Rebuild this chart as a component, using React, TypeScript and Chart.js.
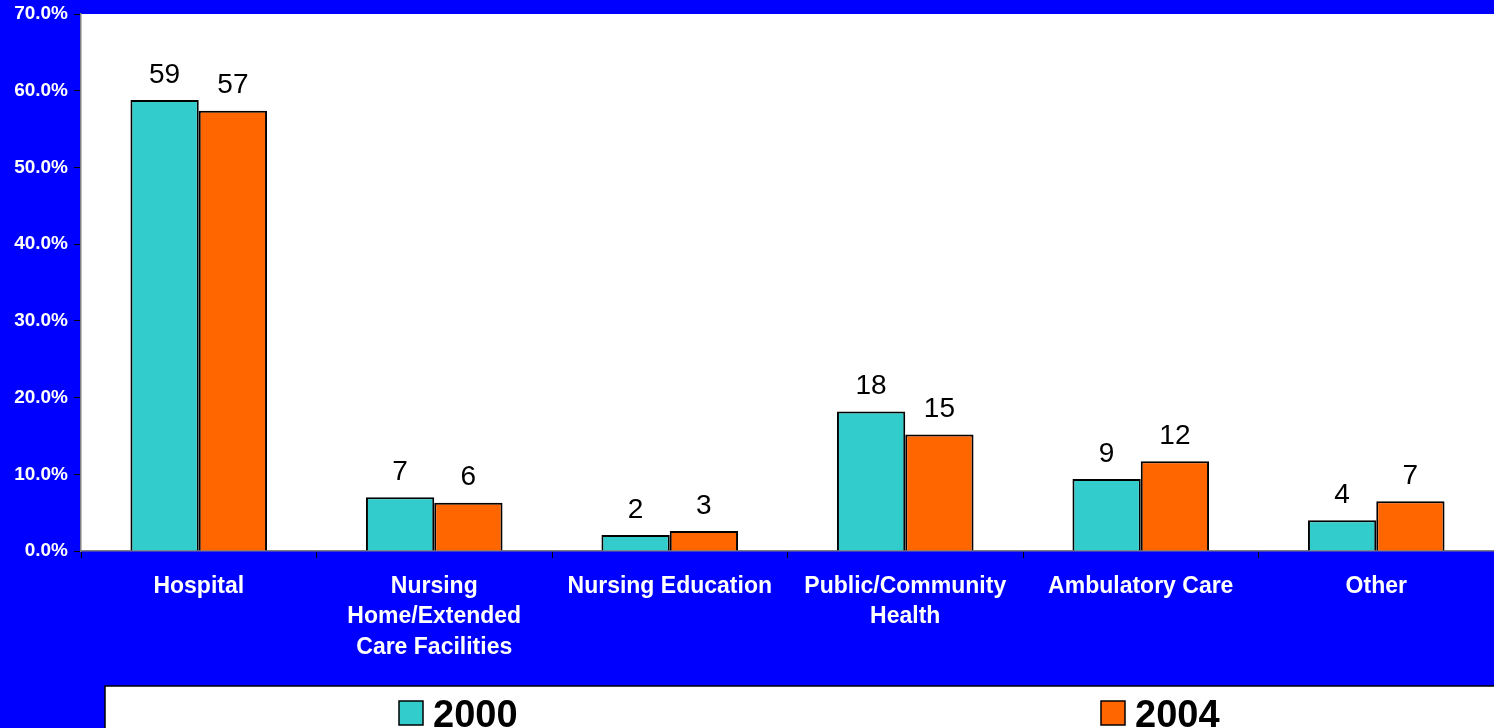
import React, { useEffect, useRef } from "react";
import { Chart, registerables } from "chart.js";

Chart.register(...registerables);

// Share of employed RNs by work setting (%)
const categories: (string | string[])[] = [
  "Hospital",
  ["Nursing", "Home/Extended", "Care Facilities"],
  "Nursing Education",
  ["Public/Community", "Health"],
  "Ambulatory Care",
  "Other",
];
const series2000 = [58.8, 7.0, 2.1, 18.2, 9.4, 4.0];
const series2004 = [57.4, 6.3, 2.6, 15.2, 11.7, 6.5];
const seriesNames = ["2000", "2004"];
const seriesColors = ["#33CCCC", "#FF6600"];
const yTicks = [0, 10, 20, 30, 40, 50, 60, 70];

const FONT = "'Liberation Sans', Arial, sans-serif";

const backgroundPlugin = {
  id: "panelBackground",
  beforeDraw(chart: any) {
    const { ctx, chartArea } = chart;
    ctx.save();
    ctx.fillStyle = "#0000FF";
    ctx.fillRect(0, 0, chart.width, chart.height);
    ctx.fillStyle = "#FFFFFF";
    ctx.fillRect(chartArea.left, chartArea.top, chartArea.right - chartArea.left, chartArea.bottom - chartArea.top);
    ctx.restore();
  },
};

const valueLabelPlugin = {
  id: "valueLabels",
  afterDatasetsDraw(chart: any) {
    const { ctx } = chart;
    ctx.save();
    ctx.fillStyle = "#000000";
    ctx.font = `28px ${FONT}`;
    ctx.textAlign = "center";
    ctx.textBaseline = "middle";
    chart.data.datasets.forEach((ds: any, i: number) => {
      const meta = chart.getDatasetMeta(i);
      meta.data.forEach((bar: any, j: number) => {
        const v = ds.data[j] as number;
        ctx.fillText(String(Math.round(v)), bar.x, bar.y - 25);
      });
    });
    ctx.restore();
  },
};

const legendBoxPlugin = {
  id: "legendBox",
  afterDraw(chart: any) {
    const { ctx } = chart;
    const top = 686;
    const left = 105;
    ctx.save();
    ctx.fillStyle = "#FFFFFF";
    ctx.fillRect(left, top, chart.width - left, chart.height - top);
    ctx.strokeStyle = "#000000";
    ctx.lineWidth = 1.5;
    ctx.beginPath();
    ctx.moveTo(left, chart.height);
    ctx.lineTo(left, top);
    ctx.lineTo(chart.width, top);
    ctx.stroke();

    const itemX = [399, 1101];
    ctx.font = `bold 38px ${FONT}`;
    ctx.textAlign = "left";
    ctx.textBaseline = "alphabetic";
    seriesNames.forEach((name, i) => {
      const x = itemX[i];
      ctx.fillStyle = seriesColors[i];
      ctx.fillRect(x, 701, 24, 24);
      ctx.strokeStyle = "#000000";
      ctx.lineWidth = 1.5;
      ctx.strokeRect(x, 701, 24, 24);
      ctx.fillStyle = "#000000";
      ctx.fillText(name, x + 34, 727);
    });
    ctx.restore();
  },
};

export default function App() {
  const canvasRef = useRef<HTMLCanvasElement | null>(null);

  useEffect(() => {
    if (!canvasRef.current) return;
    const chart = new Chart(canvasRef.current, {
      type: "bar",
      data: {
        labels: categories,
        datasets: [
          {
            label: seriesNames[0],
            data: series2000,
            backgroundColor: seriesColors[0],
            borderColor: "#000000",
            borderWidth: 2,
            categoryPercentage: 0.58,
            barPercentage: 1,
          },
          {
            label: seriesNames[1],
            data: series2004,
            backgroundColor: seriesColors[1],
            borderColor: "#000000",
            borderWidth: 2,
            categoryPercentage: 0.58,
            barPercentage: 1,
          },
        ],
      },
      options: {
        responsive: false,
        animation: false,
        devicePixelRatio: 1,
        layout: { padding: { top: 14, left: 0, right: 0, bottom: 0 } },
        plugins: {
          legend: { display: false },
          tooltip: { enabled: false },
        },
        scales: {
          x: {
            grid: {
              offset: true,
              drawOnChartArea: false,
              tickLength: 7,
              tickColor: "#000000",
            },
            border: { color: "#808080", width: 1.5 },
            ticks: {
              color: "#FFFFFF",
              font: { family: FONT, size: 23, weight: "bold", lineHeight: 1.33 },
              padding: 13,
              maxRotation: 0,
              minRotation: 0,
              autoSkip: false,
            },
            afterFit(scale: any) {
              scale.height = 177;
            },
          },
          y: {
            min: 0,
            max: 70,
            afterBuildTicks(scale: any) {
              scale.ticks = yTicks.map((v) => ({ value: v }));
            },
            grid: {
              drawOnChartArea: false,
              tickLength: 7,
              tickColor: "#000000",
            },
            border: { color: "#808080", width: 1.5 },
            ticks: {
              color: "#FFFFFF",
              font: { family: FONT, size: 19, weight: "bold" },
              padding: 6,
              callback: (v: any) => `${Number(v).toFixed(1)}%`,
            },
            afterFit(scale: any) {
              scale.width = 81;
              scale.paddingTop = 0;
              scale.paddingBottom = 0;
            },
          },
        },
      },
      plugins: [backgroundPlugin, valueLabelPlugin, legendBoxPlugin],
    });
    return () => chart.destroy();
  }, []);

  return (
    <div style={{ position: "fixed", left: 0, top: 0, width: 1494, height: 728, background: "#0000FF" }}>
      <canvas ref={canvasRef} width={1494} height={728} style={{ display: "block", width: 1494, height: 728 }} />
    </div>
  );
}
